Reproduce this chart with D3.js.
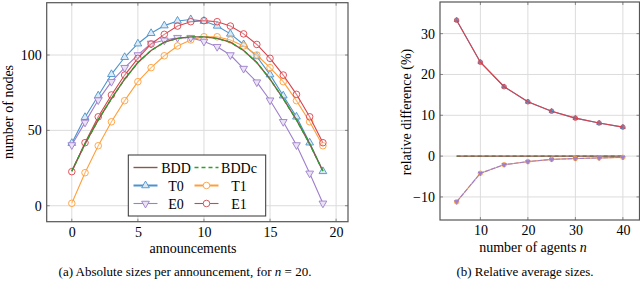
<!DOCTYPE html>
<html><head><meta charset="utf-8">
<script src="https://cdn.jsdelivr.net/npm/d3@7"></script>
<style>
html,body{margin:0;padding:0;background:#fff;}
svg text{font-family:"Liberation Serif","Times New Roman",serif !important;fill:#000;}
</style></head>
<body>
<svg id="c" width="640" height="287" font-family="Liberation Serif"></svg>
<script>
// ---------- data ----------
const announcements = d3.range(0, 20);
const bdd  = [23, 41, 57, 71, 84, 95, 103, 108.5, 111, 112, 112, 111, 108.5, 103, 95, 84, 71, 57, 41, 23];
const bddc = [23, 41, 57, 71, 84, 95, 103, 108.5, 111, 112, 112, 111, 108.5, 103, 95, 84, 71, 57, 41, 23];
const t0 = [41.5, 58.7, 73, 87.2, 98.5, 107.5, 114.4, 119.5, 122.6, 123.6, 122.5, 119.3, 114, 107, 99, 87, 73, 59, 41.8, 22.8];
const t1 = [1.6, 21.9, 39.8, 55.7, 69.7, 82.3, 91.6, 99.5, 106, 110, 112.1, 112.1, 110, 106, 100, 91.6, 82.3, 69.7, 55.7, 39.8];
const e0 = [40.3, 55.3, 70.1, 82.3, 91.6, 100, 107.7, 109.8, 111.5, 111.5, 109, 105.5, 100, 91, 82, 70, 55.7, 40.3, 21.5, 1.6];
const e1 = [22.6, 41.8, 59, 73.5, 86.7, 97.8, 107.3, 113.7, 119.2, 122.1, 122.8, 122.1, 119.2, 114, 107, 97.8, 86.7, 73.9, 59, 41.8];
const leftXTicks = [0, 5, 10, 15, 20];
const leftYTicks = [0, 50, 100];

const agents = [5, 10, 15, 20, 25, 30, 35, 40];
const relBDD  = [0, 0, 0, 0, 0, 0, 0, 0];
const relBDDc = [0, 0, 0, 0, 0, 0, 0, 0];
const relT0 = [33.3, 23, 17, 13.3, 11, 9.3, 8.1, 7.1];
const relE1 = [33.3, 23, 17, 13.3, 11, 9.3, 8.1, 7.1];
const relT1 = [-11.2, -4.2, -2.1, -1.35, -0.8, -0.6, -0.45, -0.3];
const relE0 = [-11.2, -4.2, -2.1, -1.35, -0.8, -0.6, -0.45, -0.3];
const rightXTicks = [10, 20, 30, 40];
const rightYTicks = [-10, 0, 10, 20, 30];

const C = {bdd:"#8c564b", bddc:"#2ca02c", t0:"#4b93cc", t1:"#ff9f3a", e0:"#9d7fcc", e1:"#d9424b"};

const svg = d3.select("#c");
const gridCol = "#dcdcdc", frameCol = "#555";

function sym(kind, size){
  if(kind==="circle") return d3.symbol(d3.symbolCircle, size)();
  return d3.symbol(d3.symbolTriangle, size)();
}

function panel(opts){
  const g = svg.append("g");
  const {x, y} = opts;
  g.selectAll(".gx").data(opts.xTicks).join("line")
    .attr("x1", d=>x(d)).attr("x2", d=>x(d))
    .attr("y1", y.range()[0]).attr("y2", y.range()[1])
    .attr("stroke", gridCol).attr("stroke-width", 1);
  g.selectAll(".gy").data(opts.yTicks).join("line")
    .attr("y1", d=>y(d)).attr("y2", d=>y(d))
    .attr("x1", x.range()[0]).attr("x2", x.range()[1])
    .attr("stroke", gridCol).attr("stroke-width", 1);
  const xa = g.append("g").attr("transform", `translate(0,${y.range()[0]})`)
    .call(d3.axisBottom(x).tickValues(opts.xTicks).tickSize(0).tickPadding(opts.xpad).tickFormat(d3.format("d")));
  const ya = g.append("g").attr("transform", `translate(${x.range()[0]},0)`)
    .call(d3.axisLeft(y).tickValues(opts.yTicks).tickSize(0).tickPadding(5).tickFormat(d => d < 0 ? "\u2212" + Math.abs(d) : d));
  [xa, ya].forEach(a => { a.attr("font-family", "Liberation Serif"); a.select(".domain").remove(); a.selectAll("text").style("font-size","14px"); });
  g.selectAll(".tx").data(opts.xTicks).join("line")
    .attr("x1", d=>x(d)).attr("x2", d=>x(d))
    .attr("y1", y.range()[0]).attr("y2", y.range()[0]-3).attr("stroke", "#888");
  g.selectAll(".tx2").data(opts.xTicks).join("line")
    .attr("x1", d=>x(d)).attr("x2", d=>x(d))
    .attr("y1", y.range()[1]).attr("y2", y.range()[1]+3).attr("stroke", "#888");
  g.selectAll(".ty").data(opts.yTicks).join("line")
    .attr("y1", d=>y(d)).attr("y2", d=>y(d))
    .attr("x1", x.range()[0]).attr("x2", x.range()[0]+3).attr("stroke", "#888");
  g.selectAll(".ty2").data(opts.yTicks).join("line")
    .attr("y1", d=>y(d)).attr("y2", d=>y(d))
    .attr("x1", x.range()[1]).attr("x2", x.range()[1]-3).attr("stroke", "#888");
  return g;
}

function series(g, x, y, xs, ys, color, o){
  const line = d3.line().x((d,i)=>x(xs[i])).y(d=>y(d));
  g.append("path").datum(ys).attr("d", line).attr("fill","none")
    .attr("stroke", color).attr("stroke-width", o.w || 1.1)
    .attr("stroke-dasharray", o.dash || null);
  if(o.mark){
    g.selectAll(null).data(ys).join("path")
      .attr("d", sym(o.mark, o.ms))
      .attr("transform", (d,i)=>`translate(${x(xs[i])},${y(d)})${o.mark==="down"?" rotate(180)":""}`)
      .attr("fill", o.fill || "none").attr("stroke", color).attr("stroke-width", 0.9);
  }
}

// ---------- left panel ----------
const xL = d3.scaleLinear().domain([-1.9, 20.9]).range([46.7, 348]);
const yL = d3.scaleLinear().domain([-10.6, 134.7]).range([221.7, 2.7]);
const gL = panel({x:xL, y:yL, xTicks:leftXTicks, yTicks:leftYTicks, xpad:5});
series(gL, xL, yL, announcements, t0, C.t0, {mark:"up", ms:26, fill:"#dbe9f5"});
series(gL, xL, yL, announcements, t1, C.t1, {mark:"circle", ms:34, fill:"rgba(255,255,255,0.3)"});
series(gL, xL, yL, announcements, e0, C.e0, {mark:"down", ms:26, fill:"#ebe3f5"});
series(gL, xL, yL, announcements, e1, C.e1, {mark:"circle", ms:34, fill:"rgba(255,255,255,0.3)"});
series(gL, xL, yL, announcements, bdd, C.bdd, {w:1.4});
series(gL, xL, yL, announcements, bddc, C.bddc, {w:1.4, dash:"4,3"});
gL.append("rect").attr("x",46.7).attr("y",2.7).attr("width",348-46.7).attr("height",221.7-2.7)
  .attr("fill","none").attr("stroke",frameCol).attr("stroke-width",1.2);

// legend
const leg = gL.append("g");
leg.append("rect").attr("x",128.3).attr("y",155).attr("width",137.4).attr("height",61)
  .attr("fill","#fff").attr("stroke","#333").attr("stroke-width",1);
const legItems = [
  {name:"BDD", c:C.bdd, col:0, row:0, w:1.4},
  {name:"BDDc", c:C.bddc, col:1, row:0, w:1.4, dash:"4,3"},
  {name:"T0", c:C.t0, col:0, row:1, mark:"up", fill:"#dbe9f5", w:2},
  {name:"T1", c:C.t1, col:1, row:1, mark:"circle", w:2},
  {name:"E0", c:C.e0, col:0, row:2, mark:"down", fill:"#ebe3f5", w:1.1},
  {name:"E1", c:C.e1, col:1, row:2, mark:"circle", w:1.1},
];
const legX0 = [133.5, 194.5], legTextC = [176, 239], legRowY = [167.5, 185.5, 203.5];
legItems.forEach(it=>{
  const x0 = legX0[it.col], yy = legRowY[it.row];
  leg.append("line").attr("x1",x0).attr("x2",x0+24).attr("y1",yy).attr("y2",yy)
    .attr("stroke",it.c).attr("stroke-width",it.w).attr("stroke-dasharray",it.dash||null);
  if(it.mark){
    leg.append("path").attr("d", sym(it.mark, it.mark==="circle"?34:26))
      .attr("transform",`translate(${x0+12},${yy})${it.mark==="down"?" rotate(180)":""}`)
      .attr("fill", it.fill || "#fff").attr("stroke", it.c).attr("stroke-width",0.9);
  }
  leg.append("text").attr("x",legTextC[it.col]).attr("y",yy+5).attr("text-anchor","middle")
    .style("font-size","14px").text(it.name);
});

svg.append("text").attr("x",193).attr("y",253).attr("text-anchor","middle").style("font-size","14px").text("announcements");
svg.append("text").attr("transform","translate(13,112) rotate(-90)").attr("text-anchor","middle").style("font-size","14px").text("number of nodes");

// ---------- right panel ----------
const xR = d3.scaleLinear().domain([1.5, 43.5]).range([440, 639.5]);
const yR = d3.scaleLinear().domain([-15.65, 37.75]).range([220, 2]);
const gR = panel({x:xR, y:yR, xTicks:rightXTicks, yTicks:rightYTicks, xpad:5});
series(gR, xR, yR, agents, relBDDc, C.bddc, {w:1.2, dash:"4,3"});
series(gR, xR, yR, agents, relBDD, C.bdd, {w:1.4});
series(gR, xR, yR, agents, relT0, C.t0, {mark:"up", ms:10, fill:C.t0});
series(gR, xR, yR, agents, relT1, C.t1, {mark:"circle", ms:16, fill:"none", w:1.1});
series(gR, xR, yR, agents, relE0, C.e0, {mark:"down", ms:8, fill:C.e0, w:1.1, dash:"5,1"});
series(gR, xR, yR, agents, relE1, C.e1, {mark:"circle", ms:16, fill:"none"});
gR.append("rect").attr("x",440).attr("y",2).attr("width",639.5-440).attr("height",218)
  .attr("fill","none").attr("stroke",frameCol).attr("stroke-width",1.2);
svg.append("text").attr("x",533).attr("y",252).attr("text-anchor","middle").style("font-size","14px")
  .html('number of agents <tspan font-style="italic">n</tspan>');
svg.append("text").attr("transform","translate(411,112) rotate(-90)").attr("text-anchor","middle").style("font-size","14px").text("relative difference (%)");

// captions
svg.append("text").attr("x",185).attr("y",276).attr("text-anchor","middle").style("font-size","13px")
  .html('(a) Absolute sizes per announcement, for <tspan font-style="italic">n</tspan> = 20.');
svg.append("text").attr("x",525).attr("y",276).attr("text-anchor","middle").style("font-size","13px")
  .text("(b) Relative average sizes.");
</script>
</body></html>
